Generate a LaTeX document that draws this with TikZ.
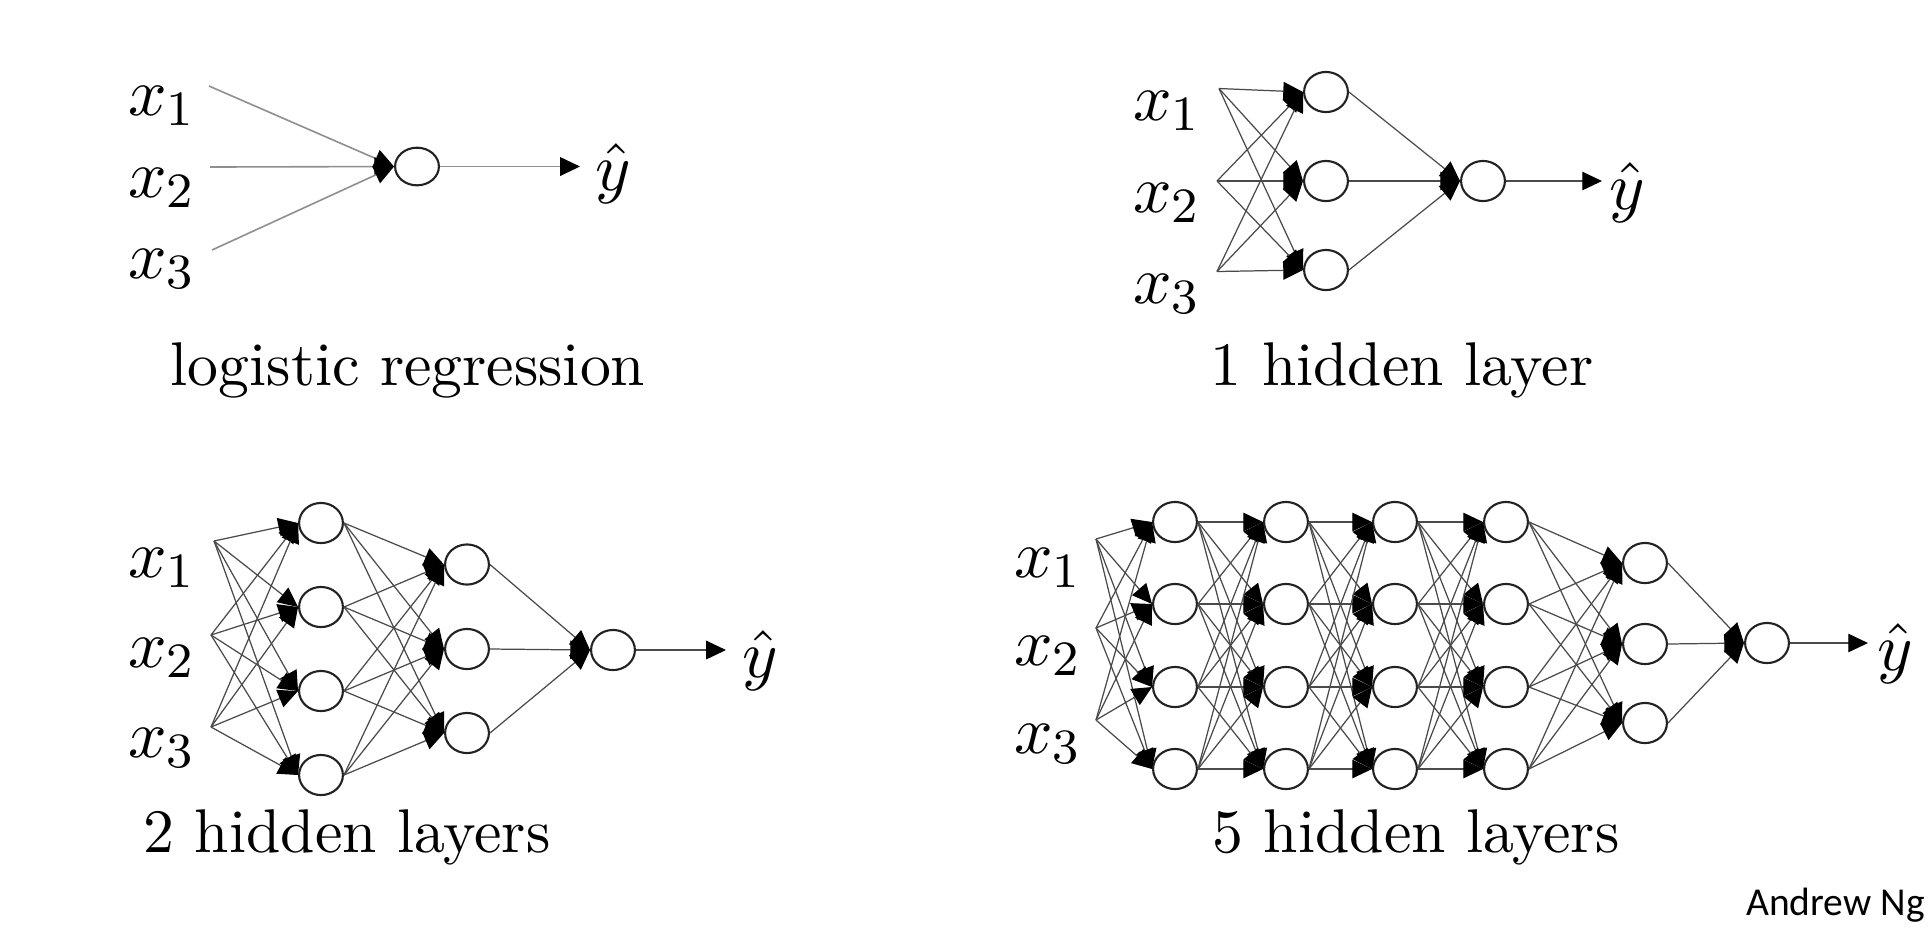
\documentclass[tikz,border=0pt]{standalone}
\usepackage{fontspec}
\newfontfamily\carlito{Carlito}
\usetikzlibrary{arrows.meta,shapes.geometric}
\definecolor{lineA}{HTML}{8F8F8F}
\definecolor{lineB}{HTML}{4A4A4A}
\definecolor{ring}{HTML}{222222}
\tikzset{
  neuron/.style={ellipse, draw=ring, line width=0.34pt, fill=white, inner sep=0pt,
    minimum width=7.1pt, minimum height=6.5pt},
  headtip/.style={-{Triangle[length=3.2pt,width=3.0pt,color=black]}},
  connA/.style={headtip, draw=lineA, line width=0.26pt},
  connB/.style={headtip, draw=lineB, line width=0.2pt},
  capt/.style={font=\fontsize{10}{12}\selectfont, inner sep=0pt, anchor=base},
  lbl/.style={font=\fontsize{11}{13}\selectfont, inner sep=0pt, anchor=base west},
  yhat/.style={font=\fontsize{11}{13}\selectfont, inner sep=0pt, anchor=base},
}
\begin{document}
\begin{tikzpicture}[x=0.162pt,y=-0.162pt]
\useasboundingbox (0,0) rectangle (1930,928);
\fill[white] (0,0) rectangle (1930,928);

% ---------- panel 1: logistic regression
\coordinate (a1) at (209,86);
\coordinate (a2) at (210,167);
\coordinate (a3) at (212,250);
\node[neuron, minimum height=6.1pt] (aN) at (417,166.5) {};
\coordinate (aY) at (580,166.5);
\node[lbl] (ax1) at (127,115) {$x_1$};
\node[lbl] (ax2) at (127,197) {$x_2$};
\node[lbl] (ax3) at (127,278) {$x_3$};
\node[yhat] (ayh) at (613,190) {$\hat{y}$};
\node[capt] (acap) at (408,385) {logistic regression};
\foreach \i in {1,2,3} \draw[connA] (a\i) -- (aN.west);
\draw[connA] (aN.east) -- (aY);

% ---------- panel 2: 1 hidden layer
\coordinate (b1) at (1219,88.5);
\coordinate (b2) at (1217,181);
\coordinate (b3) at (1217,271.5);
\foreach \y [count=\j] in {92,181,270} \node[neuron] (bh\j) at (1326,\y) {};
\node[neuron] (bO) at (1483,181) {};
\coordinate (bY) at (1602,181);
\node[lbl] (bx1) at (1132,120) {$x_1$};
\node[lbl] (bx2) at (1132,212) {$x_2$};
\node[lbl] (bx3) at (1132,303) {$x_3$};
\node[yhat] (byh) at (1627,209) {$\hat{y}$};
\node[capt] (bcap) at (1402,385) {1 hidden layer};
\foreach \i in {1,2,3} \foreach \j in {1,2,3} \draw[connB] (b\i) -- (bh\j.west);
\foreach \j in {1,2,3} \draw[connB] (bh\j.east) -- (bO.west);
\draw[connB] (bO.east) -- (bY);

% ---------- panel 3: 2 hidden layers
\coordinate (c1) at (214,541);
\coordinate (c2) at (211,635);
\coordinate (c3) at (211,727);
\foreach \y [count=\j] in {523,607,691,775} \node[neuron] (cA\j) at (321,\y) {};
\foreach \y [count=\j] in {564.5,649,733} \node[neuron] (cB\j) at (467,\y) {};
\node[neuron] (cO) at (613,650) {};
\coordinate (cY) at (726,650);
\node[lbl] (cx1) at (127,577) {$x_1$};
\node[lbl] (cx2) at (127,667) {$x_2$};
\node[lbl] (cx3) at (127,757) {$x_3$};
\node[yhat] (cyh) at (760,677) {$\hat{y}$};
\node[capt] (ccap) at (347,852) {2 hidden layers};
\foreach \i in {1,2,3} \foreach \j in {1,...,4} \draw[connB] (c\i) -- (cA\j.west);
\foreach \i in {1,...,4} \foreach \j in {1,2,3} \draw[connB] (cA\i.east) -- (cB\j.west);
\foreach \j in {1,2,3} \draw[connB] (cB\j.east) -- (cO.west);
\draw[connB] (cO.east) -- (cY);

% ---------- panel 4: 5 hidden layers
\coordinate (d1) at (1096,539);
\coordinate (d2) at (1096,628);
\coordinate (d3) at (1096,720);
\foreach \x [count=\l] in {1175,1286,1395,1506}
  \foreach \y [count=\j] in {522,604,687,769}
    \node[neuron] (d\l-\j) at (\x,\y) {};
\foreach \y [count=\j] in {563,644,723} \node[neuron] (d5-\j) at (1645,\y) {};
\node[neuron] (dO) at (1767,643) {};
\coordinate (dY) at (1868,643);
\node[lbl] (dx1) at (1013,577) {$x_1$};
\node[lbl] (dx2) at (1013,665) {$x_2$};
\node[lbl] (dx3) at (1013,753) {$x_3$};
\node[yhat] (dyh) at (1895,670) {$\hat{y}$};
\node[capt] (dcap) at (1416,852) {5 hidden layers};
\foreach \i in {1,2,3} \foreach \j in {1,...,4} \draw[connB] (d\i) -- (d1-\j.west);
\foreach \l [evaluate=\l as \m using {int(\l+1)}] in {1,2,3}
  \foreach \i in {1,...,4} \foreach \j in {1,...,4}
    \draw[connB] (d\l-\i.east) -- (d\m-\j.west);
\foreach \i in {1,...,4} \foreach \j in {1,2,3} \draw[connB] (d4-\i.east) -- (d5-\j.west);
\foreach \j in {1,2,3} \draw[connB] (d5-\j.east) -- (dO.west);
\draw[connB] (dO.east) -- (dY);

% ---------- credit
\node[font=\carlito\fontsize{6.4}{7.5}\selectfont, inner sep=0pt, anchor=base west] (credit) at (1745,915) {Andrew Ng};
\end{tikzpicture}
\end{document}
